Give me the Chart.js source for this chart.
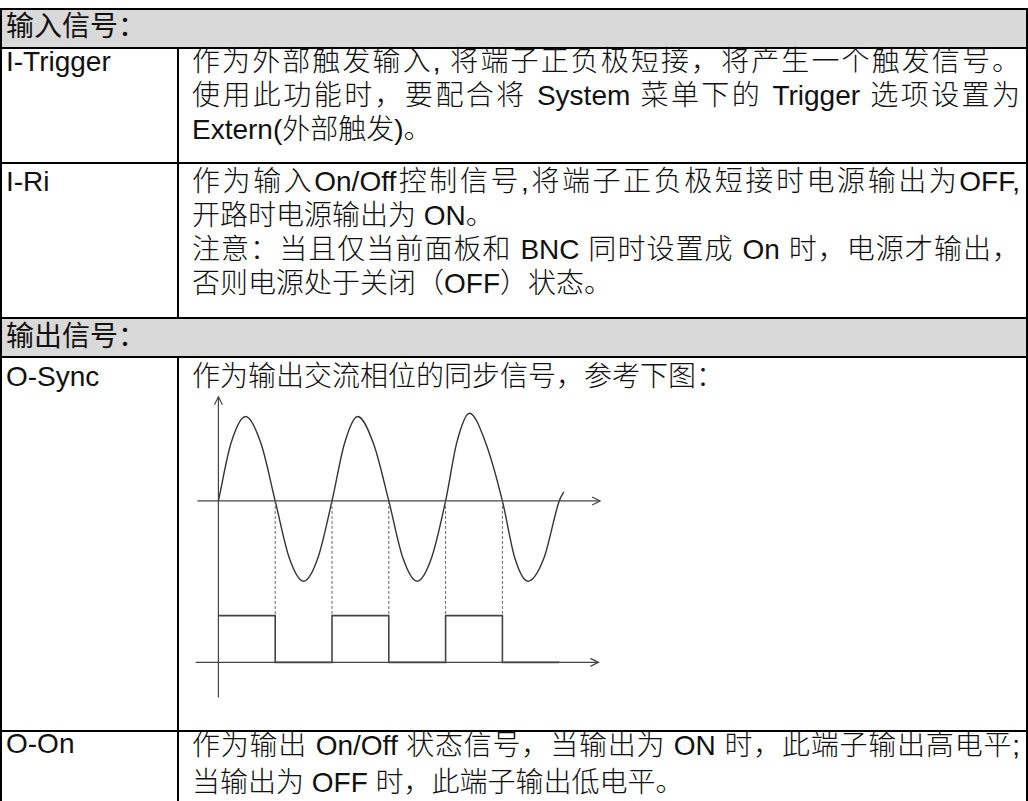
<!DOCTYPE html>
<html lang="zh-CN">
<head>
<meta charset="UTF-8">
<title>输入/输出信号</title>
<script src="https://cdn.jsdelivr.net/npm/chart.js"></script>
<style>
  html, body { margin: 0; padding: 0; background: #fff; overflow: hidden; }
  body {
    width: 1028px; height: 801px; position: relative;
    font-family: "Liberation Sans", Arial, "Noto Sans CJK SC", sans-serif;
    font-size: 28px; color: #111;
  }
  .hl { position: absolute; left: 0; width: 1028px; height: 2px; background: #000; }
  .vl { position: absolute; width: 2px; background: #000; }
  .head { position: absolute; left: 2px; width: 1024px; background: #d9d9d9; }
  .txt { position: absolute; white-space: nowrap; line-height: 34px; }
  .cell { position: absolute; left: 192px; width: 828px; line-height: 34px; font-weight: 300; }
  .cell div { white-space: nowrap; }
  .cell div.j { white-space: normal; text-align: justify; text-align-last: justify; }
  #syncChart { position: absolute; left: 190px; top: 378px; width: 426px; height: 336px; }
</style>
</head>
<body>
  <!-- table frame -->
  <div class="head" style="top:10px; height:37px"></div>
  <div class="head" style="top:319px; height:37px"></div>
  <div class="hl" style="top:8px"></div>
  <div class="hl" style="top:47px"></div>
  <div class="hl" style="top:162px"></div>
  <div class="hl" style="top:317px"></div>
  <div class="hl" style="top:356px"></div>
  <div class="hl" style="top:730px"></div>
  <div class="vl" style="left:0; top:8px; height:793px"></div>
  <div class="vl" style="left:1026px; top:8px; height:793px"></div>
  <div class="vl" style="left:177px; top:47px; height:271px"></div>
  <div class="vl" style="left:177px; top:356px; height:445px"></div>

  <div class="txt" style="left:6px; top:10px">输入信号：</div>

  <div class="txt" style="left:6px; top:45px">I-Trigger</div>
  <div class="cell" style="top:45px">
    <div class="j">作为外部触发输入, 将端子正负极短接，将产生一个触发信号。</div>
    <div class="j">使用此功能时，要配合将 System 菜单下的 Trigger 选项设置为</div>
    <div>Extern(外部触发)。</div>
  </div>

  <div class="txt" style="left:6px; top:165px">I-Ri</div>
  <div class="cell" style="top:165px">
    <div class="j">作为输入On/Off控制信号,将端子正负极短接时电源输出为OFF,</div>
    <div>开路时电源输出为 ON。</div>
    <div class="j">注意：当且仅当前面板和 BNC 同时设置成 On 时，电源才输出，</div>
    <div>否则电源处于关闭（OFF）状态。</div>
  </div>

  <div class="txt" style="left:6px; top:320px">输出信号：</div>

  <div class="txt" style="left:6px; top:360px">O-Sync</div>
  <div class="cell" style="top:360px">
    <div>作为输出交流相位的同步信号，参考下图：</div>
  </div>

  <div id="syncChart"><canvas id="chart"></canvas></div>

  <div class="txt" style="left:6px; top:727px">O-On</div>
  <div class="cell" style="top:727px; line-height:37px">
    <div class="j">作为输出 On/Off 状态信号，当输出为 ON 时，此端子输出高电平;</div>
    <div>当输出为 OFF 时，此端子输出低电平。</div>
  </div>

<script>
  // AC waveform (x in half-periods, y in amplitude units)
  var phase   = [0, 0.22, 0.48, 0.75, 1, 1.25, 1.5, 1.75, 2, 2.22, 2.45, 2.73, 3, 3.25, 3.5, 3.75, 4, 4.2, 4.42, 4.7, 5, 5.22, 5.45, 5.73, 6, 6.08];
  var acValue = [0, 0.7, 1.03, 0.7, 0, -0.7, -0.98, -0.7, 0, 0.7, 1.03, 0.7, 0, -0.7, -0.98, -0.7, 0, 0.72, 1.07, 0.72, 0, -0.7, -0.98, -0.7, 0, 0.11];

  // O-Sync square wave
  var edges     = [0, 1, 2, 3, 4, 5, 6];
  var syncLevel = [-1.4, -1.97, -1.4, -1.97, -1.4, -1.97, -1.97];
  var syncHigh  = -1.4;
  var syncLow   = -1.97;

  // zero crossings that get a dotted guide
  var crossings = [1, 2, 3, 4, 5];

  // axis extents
  var acAxisX   = [-0.37, 6.72];
  var syncAxisX = [-0.4, 6.69];
  var vAxisY    = [-2.4, 1.27];

  var pairs = function (xs, ys) { return xs.map(function (x, i) { return { x: x, y: ys[i] }; }); };

  var ink = '#333333';

  var datasets = [];

  // axes
  datasets.push({ data: pairs(acAxisX, [0, 0]), borderColor: '#444', borderWidth: 1.2, arrow: 'right' });
  datasets.push({ data: pairs(syncAxisX, [syncLow, syncLow]), borderColor: '#444', borderWidth: 1.2, arrow: 'right' });
  datasets.push({ data: pairs([0, 0], vAxisY), borderColor: '#444', borderWidth: 1.2, arrow: 'up' });

  // dotted guides from each zero crossing down to the high level
  crossings.forEach(function (c) {
    datasets.push({ data: pairs([c, c], [0, syncHigh]), borderColor: '#666', borderWidth: 1, borderDash: [3, 2] });
  });

  // sine
  datasets.push({ data: pairs(phase, acValue), borderColor: ink, borderWidth: 1.4, cubicInterpolationMode: 'monotone' });

  // square
  datasets.push({ data: pairs(edges, syncLevel), borderColor: '#444', borderWidth: 1.6, stepped: 'before' });

  // open chevrons at the end of the axes
  var arrowHeads = {
    id: 'arrowHeads',
    afterDatasetsDraw: function (chart) {
      var ctx = chart.ctx;
      chart.data.datasets.forEach(function (ds, i) {
        if (!ds.arrow) return;
        var pts = chart.getDatasetMeta(i).data;
        var tip = pts[pts.length - 1];
        ctx.save();
        ctx.strokeStyle = ds.borderColor;
        ctx.lineWidth = ds.borderWidth;
        ctx.beginPath();
        if (ds.arrow === 'right') {
          ctx.moveTo(tip.x - 8, tip.y - 4);
          ctx.lineTo(tip.x, tip.y);
          ctx.lineTo(tip.x - 8, tip.y + 4);
        } else {
          ctx.moveTo(tip.x - 4, tip.y + 8);
          ctx.lineTo(tip.x, tip.y);
          ctx.lineTo(tip.x + 4, tip.y + 8);
        }
        ctx.stroke();
        ctx.restore();
      });
    }
  };

  new Chart(document.getElementById('chart').getContext('2d'), {
    type: 'line',
    data: { datasets: datasets },
    options: {
      responsive: true,
      maintainAspectRatio: false,
      animation: false,
      devicePixelRatio: 1,
      layout: { padding: 0 },
      elements: { point: { radius: 0, hoverRadius: 0 }, line: { fill: false } },
      plugins: { legend: { display: false }, tooltip: { enabled: false } },
      events: [],
      scales: {
        x: { type: 'linear', min: -0.5, max: 7, display: false },
        y: { type: 'linear', min: -2.6, max: 1.5, display: false }
      }
    },
    plugins: [arrowHeads]
  });
</script>
</body>
</html>
